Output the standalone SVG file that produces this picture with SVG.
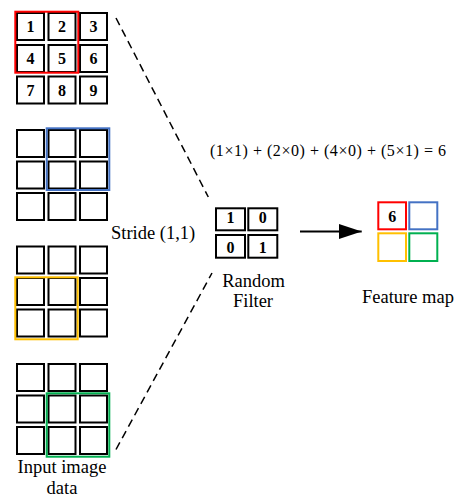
<svg xmlns="http://www.w3.org/2000/svg" width="459" height="498" viewBox="0 0 459 498">
<defs>
<style>
.cell{fill:#fff;stroke:#000;stroke-width:2}
.num{font-family:"Liberation Serif",serif;font-weight:bold;font-size:16px;text-anchor:middle;fill:#000}
.lbl{font-family:"Liberation Serif",serif;font-size:18.5px;fill:#000}
.mid{text-anchor:middle}
.hl{fill:none;stroke-width:2}
.dash{fill:none;stroke:#000;stroke-width:1.5;stroke-dasharray:8,5}
</style>
<marker id="arr" markerWidth="24" markerHeight="16" refX="23" refY="7.5" orient="auto" markerUnits="userSpaceOnUse">
<path d="M0,0 L23,7.5 L0,15 Z" fill="#000"/>
</marker>
</defs>
<rect width="459" height="498" fill="#fff"/>

<g id="input-grid-1">
<rect class="cell" x="17" y="13" width="27" height="27"/>
<rect class="cell" x="48.5" y="13" width="27" height="27"/>
<rect class="cell" x="80" y="13" width="27" height="27"/>
<rect class="cell" x="17" y="45" width="27" height="27"/>
<rect class="cell" x="48.5" y="45" width="27" height="27"/>
<rect class="cell" x="80" y="45" width="27" height="27"/>
<rect class="cell" x="17" y="76.5" width="27" height="27"/>
<rect class="cell" x="48.5" y="76.5" width="27" height="27"/>
<rect class="cell" x="80" y="76.5" width="27" height="27"/>
<text class="num" x="30.5" y="32">1</text>
<text class="num" x="62" y="32">2</text>
<text class="num" x="93.5" y="32">3</text>
<text class="num" x="30.5" y="64">4</text>
<text class="num" x="62" y="64">5</text>
<text class="num" x="93.5" y="64">6</text>
<text class="num" x="30.5" y="95.5">7</text>
<text class="num" x="62" y="95.5">8</text>
<text class="num" x="93.5" y="95.5">9</text>
<rect class="hl" x="15.3" y="11.7" width="63" height="61" stroke="#ff0000"/>
</g>

<g id="input-grid-2">
<rect class="cell" x="17" y="130" width="27" height="27"/>
<rect class="cell" x="48.5" y="130" width="27" height="27"/>
<rect class="cell" x="80" y="130" width="27" height="27"/>
<rect class="cell" x="17" y="161.5" width="27" height="27"/>
<rect class="cell" x="48.5" y="161.5" width="27" height="27"/>
<rect class="cell" x="80" y="161.5" width="27" height="27"/>
<rect class="cell" x="17" y="193" width="27" height="27"/>
<rect class="cell" x="48.5" y="193" width="27" height="27"/>
<rect class="cell" x="80" y="193" width="27" height="27"/>
<rect class="hl" x="46.7" y="128.3" width="62.6" height="61.7" stroke="#4472c4"/>
</g>

<g id="input-grid-3">
<rect class="cell" x="17" y="246.5" width="27" height="27"/>
<rect class="cell" x="48.5" y="246.5" width="27" height="27"/>
<rect class="cell" x="80" y="246.5" width="27" height="27"/>
<rect class="cell" x="17" y="278" width="27" height="27"/>
<rect class="cell" x="48.5" y="278" width="27" height="27"/>
<rect class="cell" x="80" y="278" width="27" height="27"/>
<rect class="cell" x="17" y="309.5" width="27" height="27"/>
<rect class="cell" x="48.5" y="309.5" width="27" height="27"/>
<rect class="cell" x="80" y="309.5" width="27" height="27"/>
<rect class="hl" x="15.3" y="277.3" width="62.4" height="62" stroke="#ffc000"/>
</g>

<g id="input-grid-4">
<rect class="cell" x="17" y="364" width="27" height="27"/>
<rect class="cell" x="48.5" y="364" width="27" height="27"/>
<rect class="cell" x="80" y="364" width="27" height="27"/>
<rect class="cell" x="17" y="395.5" width="27" height="27"/>
<rect class="cell" x="48.5" y="395.5" width="27" height="27"/>
<rect class="cell" x="80" y="395.5" width="27" height="27"/>
<rect class="cell" x="17" y="427" width="27" height="27"/>
<rect class="cell" x="48.5" y="427" width="27" height="27"/>
<rect class="cell" x="80" y="427" width="27" height="27"/>
<rect class="hl" x="46.7" y="393.3" width="62.6" height="63.4" stroke="#00b050"/>
</g>

<g id="input-label">
<text class="lbl mid" x="62" y="473">Input image</text>
<text class="lbl mid" x="62" y="494">data</text>
</g>

<g id="stride-label">
<text class="lbl" x="111" y="239">Stride (1,1)</text>
</g>

<g id="filter">
<rect class="cell" x="216" y="208.3" width="29" height="22"/>
<rect class="cell" x="248.3" y="208.3" width="29" height="22"/>
<rect class="cell" x="216" y="235" width="29" height="22.7"/>
<rect class="cell" x="248.3" y="235" width="29" height="22.7"/>
<text class="num" x="230.5" y="222.8">1</text>
<text class="num" x="262.8" y="222.8">0</text>
<text class="num" x="230.5" y="252.5">0</text>
<text class="num" x="262.8" y="252.5">1</text>
<text class="lbl mid" x="253.5" y="287">Random</text>
<text class="lbl mid" x="253" y="307">Filter</text>
</g>

<g id="formula">
<text x="210" y="156" font-family="Liberation Serif, serif" font-size="16" textLength="236" lengthAdjust="spacing">(1×1) + (2×0) + (4×0) + (5×1) = 6</text>
</g>

<g id="feature-map">
<rect class="hl" x="378.3" y="202.3" width="27.7" height="27" stroke="#ff0000"/>
<rect class="hl" x="409.3" y="202.3" width="28" height="27" stroke="#4472c4"/>
<rect class="hl" x="378.3" y="233.3" width="27.7" height="27.7" stroke="#ffc000"/>
<rect class="hl" x="409.3" y="233.3" width="28" height="27.7" stroke="#00b050"/>
<text class="num" x="392.2" y="221.5">6</text>
<text class="lbl mid" x="408" y="303">Feature map</text>
</g>

<g id="connectors">
<line class="dash" x1="116" y1="18" x2="208.3" y2="197"/>
<line class="dash" x1="116" y1="449.5" x2="212" y2="273"/>
<line x1="300" y1="231.5" x2="361.7" y2="231.5" stroke="#000" stroke-width="2" marker-end="url(#arr)"/>
</g>
</svg>
